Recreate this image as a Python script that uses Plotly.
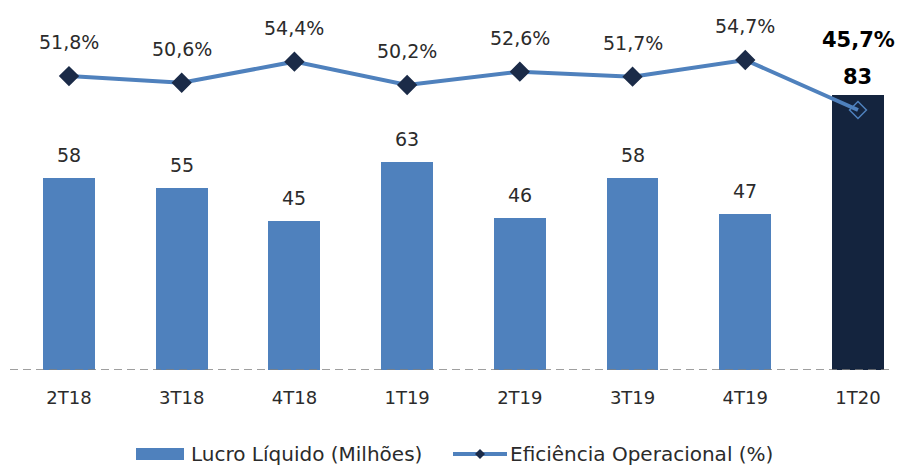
import plotly.graph_objects as go

categorias = ["2T18", "3T18", "4T18", "1T19", "2T19", "3T19", "4T19", "1T20"]
lucro_liquido = [58, 55, 45, 63, 46, 58, 47, 83]
eficiencia = [51.8, 50.6, 54.4, 50.2, 52.6, 51.7, 54.7, 45.7]

W, H = 898, 466
FONT = "DejaVu Sans"
TXT = "#2b2b2b"
BLUE = "#4F81BD"
NAVY = "#14243E"
MARK = "#1B2B48"

n = len(categorias)
bar_colors = [BLUE] * (n - 1) + [NAVY]
mk_symbols = ["diamond"] * (n - 1) + ["diamond-open"]
mk_colors = [MARK] * (n - 1) + [BLUE]
mk_sizes = [14] * (n - 1) + [13]

fig = go.Figure()
fig.add_trace(go.Bar(
    x=categorias, y=lucro_liquido, marker=dict(color=bar_colors, line=dict(width=0)),
    width=0.46, yaxis="y", showlegend=False, hoverinfo="skip",
))
fig.add_trace(go.Scatter(
    x=categorias, y=eficiencia, yaxis="y2", mode="lines+markers",
    line=dict(color=BLUE, width=4),
    marker=dict(symbol=mk_symbols, color=mk_colors, size=mk_sizes, opacity=1,
                line=dict(width=1.5, color=mk_colors)),
    showlegend=False, hoverinfo="skip",
))

ann = []
for i, (c, v) in enumerate(zip(categorias, eficiencia)):
    last = i == n - 1
    ann.append(dict(
        x=c, y=v, xref="x", yref="y2", yanchor="middle", yshift=70 if last else 34,
        xshift=0 if not last else 1,
        text=("<b>%s</b>" if last else "%s") % (f"{v:.1f}".replace(".", ",") + "%"),
        showarrow=False, font=dict(family=FONT, size=21 if last else 19, color="#000000" if last else TXT),
    ))
for i, (c, v) in enumerate(zip(categorias, lucro_liquido)):
    last = i == n - 1
    ann.append(dict(
        x=c, y=v, xref="x", yref="y", yanchor="middle", yshift=18 if last else 23,
        text=("<b>%d</b>" if last else "%d") % v,
        showarrow=False, font=dict(family=FONT, size=21 if last else 19, color="#000000" if last else TXT),
    ))

# legend (manual)
def px_x(p):
    return p / W

def px_y(p):
    return (370 - p) / 370

ann.append(dict(x=px_x(189), y=px_y(454), xref="paper", yref="paper", xanchor="left", yanchor="middle",
                text="Lucro Líquido (Milhões)", showarrow=False, font=dict(family=FONT, size=20, color=TXT)))
ann.append(dict(x=px_x(508), y=px_y(454), xref="paper", yref="paper", xanchor="left", yanchor="middle",
                text="Eficiência Operacional (%)", showarrow=False, font=dict(family=FONT, size=20, color=TXT)))

shapes = [
    dict(type="line", xref="paper", yref="y", x0=px_x(10), x1=px_x(893), y0=0, y1=0,
         line=dict(color="#808080", width=1.5, dash="8px,5px"), layer="above"),
    dict(type="rect", xref="paper", yref="paper", x0=px_x(136), x1=px_x(184), y0=px_y(460), y1=px_y(448),
         fillcolor=BLUE, line=dict(width=0)),
    dict(type="line", xref="paper", yref="paper", x0=px_x(453), x1=px_x(507), y0=px_y(454), y1=px_y(454),
         line=dict(color=BLUE, width=4)),
    dict(type="path", xref="paper", yref="paper", xsizemode="pixel", ysizemode="pixel",
         xanchor=px_x(480), yanchor=px_y(454),
         path="M -5 0 L 0 5 L 5 0 L 0 -5 Z", fillcolor=MARK, line=dict(width=0)),
]

fig.update_layout(
    width=W, height=H, margin=dict(l=0, r=0, t=0, b=96),
    paper_bgcolor="white", plot_bgcolor="white",
    bargap=0,
    xaxis=dict(type="category", range=[-0.612, 7.355], showgrid=False, zeroline=False, showline=False,
               ticks="", tickfont=dict(family=FONT, size=18, color=TXT), ticklabelstandoff=15),
    yaxis=dict(range=[0, 111.8], visible=False, showgrid=False, zeroline=False),
    yaxis2=dict(range=[-1.06, 65.49], overlaying="y", visible=False, showgrid=False, zeroline=False),
    annotations=ann, shapes=shapes,
)

fig.write_html("out.html", config={"displayModeBar": False},
               post_script="document.body.style.margin='0px';document.body.style.overflow='hidden';")
